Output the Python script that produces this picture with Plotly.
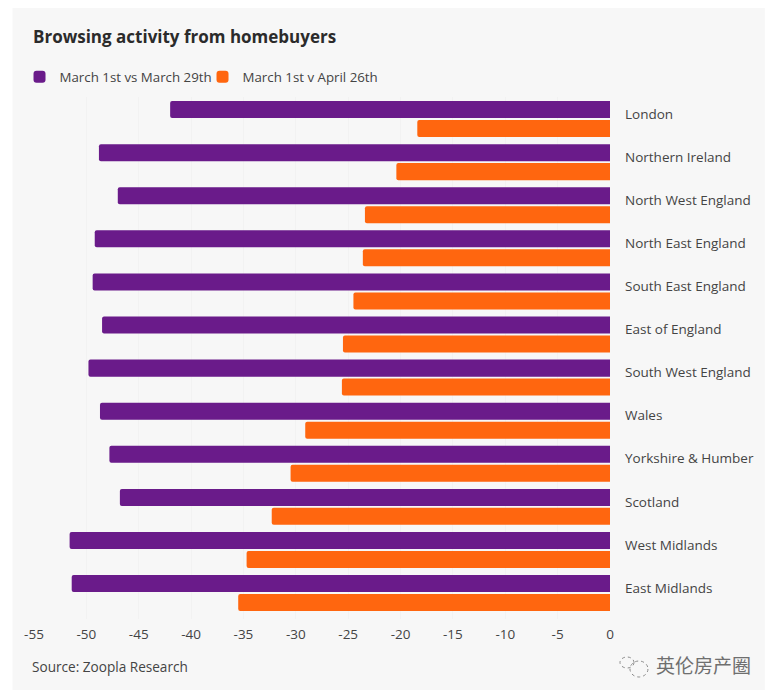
import plotly.graph_objects as go

regions = ["London", "Northern Ireland", "North West England", "North East England",
           "South East England", "East of England", "South West England", "Wales",
           "Yorkshire & Humber", "Scotland", "West Midlands", "East Midlands"]
march = [-42.0, -48.8, -47.0, -49.2, -49.4, -48.5, -49.8, -48.7, -47.8, -46.8, -51.6, -51.4]
april = [-18.4, -20.4, -23.4, -23.6, -24.5, -25.5, -25.6, -29.1, -30.5, -32.3, -34.7, -35.5]
x_ticks = [-55, -50, -45, -40, -35, -30, -25, -20, -15, -10, -5, 0]
x_tick_labels = ["-55", "-50", "-45", "-40", "-35", "-30", "-25", "-20", "-15", "-10", "-5", "0"]
title = "Browsing activity from homebuyers"
source = "Source: Zoopla Research"
watermark = "英伦房产圈"

FONT = "Open Sans, Noto Sans CJK SC"
W, H = 775, 699
L, R, T, B = 33.5, 610, 97, 619


def px(x):
    return (x - L) / (R - L)


def py(y):
    return (B - y) / (B - T)


fig = go.Figure()
fig.add_bar(y=regions, x=march, orientation="h", name="March 1st vs March 29th",
            marker=dict(color="#6a1b8a", line_width=0), offset=-0.30, width=0.395)
fig.add_bar(y=regions, x=april, orientation="h", name="March 1st v April 26th",
            marker=dict(color="#ff660f", line_width=0), offset=0.14, width=0.395)

fig.update_layout(
    width=W, height=H, autosize=False,
    margin=dict(l=L, r=W - R, t=T, b=H - B, pad=0),
    paper_bgcolor="#ffffff", plot_bgcolor="rgba(0,0,0,0)",
    barcornerradius=2,
    font=dict(family=FONT, size=13.5, color="#444444"),
    title=dict(text=f"<b>{title}</b>", x=33 / W, xanchor="left", y=1 - 37 / H, yanchor="middle",
               font=dict(family=FONT, size=17, color="#2b2b2b")),
    legend=dict(orientation="h", x=px(19), xref="paper", xanchor="left",
                y=py(77), yanchor="middle", yref="paper",
                font=dict(size=13.3, color="#444444"), itemwidth=30,
                entrywidth=138, entrywidthmode="pixels",
                bgcolor="rgba(0,0,0,0)", traceorder="normal"),
    showlegend=True,
    xaxis=dict(range=[-55, 0], tickvals=x_ticks, ticktext=x_tick_labels,
               showgrid=True, gridcolor="#f2f2f2", gridwidth=1,
               zeroline=False, showline=False, ticks="", ticklabelstandoff=5,
               tickfont=dict(size=13.5, color="#444444")),
    yaxis=dict(type="category", categoryorder="array", categoryarray=regions,
               range=[(B - 114) / 43.09, (T - 114) / 43.09], side="right",
               showgrid=False, zeroline=False, showline=False, ticks="", ticklabelstandoff=14,
               tickfont=dict(size=13.5, color="#444444")),
    shapes=[
        dict(type="rect", xref="paper", yref="paper", layer="below",
             x0=px(12), x1=px(765), y0=py(690), y1=py(8), fillcolor="#f7f7f7", line_width=0),
        dict(type="circle", xref="paper", yref="paper", x0=px(620), x1=px(634), y0=py(668), y1=py(657),
             line=dict(color="#8a8a8a", width=1, dash="dot")),
        dict(type="circle", xref="paper", yref="paper", x0=px(630), x1=px(648), y0=py(677), y1=py(661),
             line=dict(color="#8a8a8a", width=1, dash="dot")),
    ],
    annotations=[
        dict(text=source, xref="paper", yref="paper", x=px(29), y=py(666),
             xanchor="left", yanchor="middle", showarrow=False, font=dict(size=13.6, color="#444444")),
        dict(text=watermark, xref="paper", yref="paper", x=px(654), y=py(666),
             xanchor="left", yanchor="middle", showarrow=False, font=dict(size=19, color="#6f6f6f")),
    ],
)
fig.write_html("out.html", config={"displayModeBar": False},
               post_script="document.body.style.margin='0';")
